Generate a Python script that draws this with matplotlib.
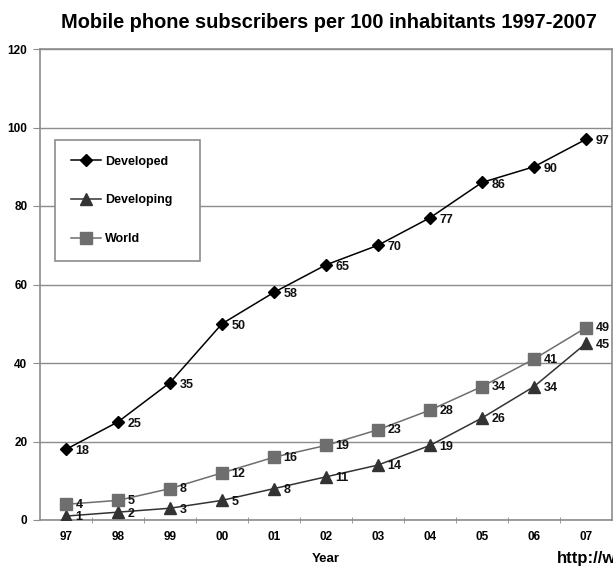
import matplotlib
matplotlib.use("Agg")
import matplotlib.pyplot as plt
import numpy as np

years = ["97", "98", "99", "00", "01", "02", "03", "04", "05", "06", "07"]
developed = [18, 25, 35, 50, 58, 65, 70, 77, 86, 90, 97]
developing = [1, 2, 3, 5, 8, 11, 14, 19, 26, 34, 45]
world = [4, 5, 8, 12, 16, 19, 23, 28, 34, 41, 49]
yticks = [0, 20, 40, 60, 80, 100, 120]

plt.rcParams['font.family'] = ['Liberation Sans', 'DejaVu Sans']

fig = plt.figure(figsize=(6.13, 5.66), dpi=100)
ax = fig.add_axes([40/613, 46/566, 572/613, 471/566])

x = np.arange(len(years))
grid_c = "#8c8c8c"

ax.plot(x, developed, color="black", lw=1.1, marker="D", ms=6.5, mfc="black", mec="black", label="Developed", zorder=3)
ax.plot(x, developing, color="#333333", lw=1.1, marker="^", ms=9, mfc="#333333", mec="#333333", label="Developing", zorder=3)
ax.plot(x, world, color="#6e6e6e", lw=1.1, marker="s", ms=8.5, mfc="#6e6e6e", mec="#6e6e6e", label="World", zorder=3)

for series, dy in ((developed, -1.5), (developing, -1.0), (world, -0.5)):
    for xi, v in zip(x, series):
        ax.annotate(str(v), (xi, v), xytext=(7, dy), textcoords="offset points",
                    fontsize=9, fontweight="bold", va="center", ha="left", color="#111111")

ax.set_xlim(-0.5, len(years) - 0.5)
ax.set_ylim(0, 120)
ax.set_yticks(yticks)
ax.set_yticklabels([str(t) for t in yticks], fontsize=8.5, fontweight="bold")
ax.set_xticks(x)
ax.set_xticklabels(years, fontsize=8.5, fontweight="bold")
ax.set_xticks(np.arange(0.5, len(years) - 1, 1.0), minor=True)
ax.tick_params(axis="x", which="major", length=0, pad=8)
ax.tick_params(axis="x", which="minor", length=4, color=grid_c, direction="inout")
ax.tick_params(axis="y", length=5, color=grid_c, direction="out", pad=4)
ax.yaxis.grid(True, color=grid_c, lw=1)
ax.set_axisbelow(True)
for s in ax.spines.values():
    s.set_color(grid_c)
    s.set_linewidth(1.2)

ax.set_xlabel("Year", fontsize=9.5, fontweight="bold", labelpad=7)

leg = ax.legend(loc="upper left", bbox_to_anchor=(15/572, 380/471 - 122/471, 145/572, 122/471),
                mode="expand", frameon=True, fancybox=False,
                edgecolor=grid_c, framealpha=1, prop={"weight": "bold", "size": 9},
                handlelength=2.4, labelspacing=2.15, borderpad=1.25, handletextpad=0.35, borderaxespad=0)
leg.get_frame().set_linewidth(1.2)
leg.set_zorder(5)

fig.text(329/613, 1 - 22/566, "Mobile phone subscribers per 100 inhabitants 1997-2007",
         ha="center", va="center", fontsize=14.4, fontweight="bold")
fig.text(557/613, 1 - 558/566, "http://www", ha="left", va="center", fontsize=12, fontweight="bold")

fig.savefig("out.png", dpi=100)
